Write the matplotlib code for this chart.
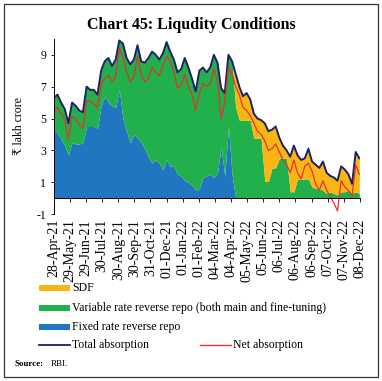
import matplotlib
matplotlib.use("Agg")
import matplotlib.pyplot as plt
from matplotlib.patches import Rectangle
from matplotlib.lines import Line2D
import numpy as np
import pandas as pd

# weekly observations, 28-Apr-21 onwards (Rs lakh crore)
week_start = "2021-04-28"

total_absorption = [
    6.3, 6.5, 6.0, 5.6, 4.7, 6.0, 5.8, 5.5, 5.4, 7.0,
    6.8, 6.8, 6.5, 8.0, 8.6, 8.8, 8.3, 8.7, 9.9, 9.7,
    8.8, 8.4, 8.7, 9.6, 8.6, 8.5, 8.8, 9.2, 9.0, 8.7,
    9.1, 9.8, 9.2, 8.7, 7.9, 8.1, 8.8, 8.2, 7.5, 6.7,
    8.0, 8.2, 7.9, 8.2, 9.0, 8.5, 6.9, 6.6, 9.0, 8.6,
    7.8, 7.0, 6.4, 6.6, 6.2, 5.3, 5.0, 4.9, 4.7, 4.2,
    4.3, 4.5, 3.8, 3.3, 3.0, 2.6, 3.3, 2.7, 2.4, 2.5,
    3.1, 2.3, 2.1, 1.9, 2.3, 1.6, 1.4, 1.3, 1.1, 2.0,
    1.8, 1.5, 0.9, 2.9, 2.5,
]

net_absorption = [
    5.45, 5.7, 5.3, 4.9, 3.7, 5.1, 5.0, 4.6, 4.4, 6.1,
    6.1, 5.9, 5.7, 7.2, 7.5, 7.7, 7.3, 7.6, 9.4, 8.9,
    7.9, 7.3, 7.6, 8.9, 7.8, 7.3, 7.5, 8.2, 7.9, 7.7,
    8.3, 8.9, 8.6, 7.9, 6.9, 7.1, 7.8, 7.0, 6.5, 5.5,
    6.6, 7.2, 7.0, 7.2, 8.1, 7.4, 5.0, 6.0, 8.2, 7.8,
    7.0, 6.5, 5.7, 5.5, 5.2, 4.7, 4.2, 4.0, 3.6, 3.0,
    3.1, 3.4, 2.9, 2.4, 2.1, 1.6, 2.4, 1.6, 1.2, 2.0,
    2.2, 1.7, 0.9, 0.5, 1.1, 0.5, 0.1, -0.3, -0.8, 1.1,
    0.7, 0.5, 0.1, 2.1, 1.5,
]

fixed_rate_rr = [
    4.3, 4.1, 3.7, 3.3, 2.7, 3.5, 3.4, 3.4, 3.5, 4.5,
    4.5, 4.5, 4.4, 5.8, 6.4, 6.0, 5.8, 5.7, 6.8, 5.0,
    4.2, 3.5, 4.0, 3.8, 3.5, 3.1, 2.6, 2.2, 2.4, 2.2,
    1.8, 2.4, 2.0, 2.0, 1.5, 1.4, 1.1, 1.0, 0.8, 0.5,
    0.6, 1.3, 1.4, 1.5, 1.3, 1.6, 3.2, 1.4, 4.5, 1.5,
    0, 0, 0, 0, 0, 0, 0, 0, 0, 0,
    0, 0, 0, 0, 0, 0, 0, 0, 0, 0,
    0, 0, 0, 0, 0, 0, 0, 0, 0, 0,
    0, 0, 0, 0, 0,
]

sdf = [
    0, 0, 0, 0, 0, 0, 0, 0, 0, 0,
    0, 0, 0, 0, 0, 0, 0, 0, 0, 0,
    0, 0, 0, 0, 0, 0, 0, 0, 0, 0,
    0, 0, 0, 0, 0, 0, 0, 0, 0, 0,
    0, 0, 0, 0, 0, 0, 0, 0, 0, 0,
    2.1, 2.1, 1.5, 1.7, 1.3, 1.55, 1.25, 1.15, 3.65, 3.15,
    2.4, 2.6, 1.3, 0.8, 0.5, 2.2, 2.9, 1.5, 1.2, 1.3,
    1.9, 1.6, 1.5, 1.3, 1.8, 1.3, 1.0, 1.0, 0.9, 1.6,
    1.4, 1.0, 0.6, 2.5, 2.2,
]

tick_labels = [
    "28-Apr-21", "29-May-21", "29-Jun-21", "30-Jul-21", "30-Aug-21",
    "30-Sep-21", "31-Oct-21", "01-Dec-21", "01-Jan-22", "01-Feb-22",
    "04-Mar-22", "04-Apr-22", "05-May-22", "05-Jun-22", "06-Jul-22",
    "06-Aug-22", "06-Sep-22", "07-Oct-22", "07-Nov-22", "08-Dec-22",
]

dates = pd.date_range(week_start, periods=len(total_absorption), freq="7D")
total = np.array(total_absorption)
fixed = np.array(fixed_rate_rr)
sdf_v = np.array(sdf)
variable = total - fixed - sdf_v
tick_pos = pd.to_datetime(tick_labels, format="%d-%b-%y")

c_blue = "#2176c2"
c_green = "#21b04b"
c_yellow = "#fbb616"
c_navy = "#1c2167"
c_red = "#e2342a"

plt.rcParams["font.family"] = ["Liberation Serif", "DejaVu Serif", "DejaVu Sans"]
plt.rcParams["axes.unicode_minus"] = False

fig = plt.figure(figsize=(3.82, 3.81), dpi=100)
ax = fig.add_axes([0.141, 0.438, 0.801, 0.46])

ax.fill_between(dates, 0, fixed, color=c_blue, lw=0)
ax.fill_between(dates, fixed, fixed + variable, color=c_green, lw=0)
ax.fill_between(dates, fixed + variable, total, color=c_yellow, lw=0)
ax.plot(dates, total, color=c_navy, lw=1.4)
ax.plot(dates, net_absorption, color=c_red, lw=0.9)

ax.set_xlim(tick_pos[0], tick_pos[-1])
ax.set_ylim(-1, 10)
ax.set_yticks([-1, 1, 3, 5, 7, 9])
ax.set_xticks(tick_pos)
ax.set_xticklabels(tick_labels, fontsize=6.5)
ax.tick_params(axis="x", labelrotation=90, length=3, width=0.6, pad=12,
               direction="out")
ax.tick_params(axis="y", labelsize=8.5, length=2, width=0.6)

ax.spines["top"].set_visible(False)
ax.spines["right"].set_visible(False)
ax.spines["bottom"].set_position(("data", 0))
ax.spines["bottom"].set_linewidth(0.7)
ax.spines["left"].set_linewidth(0.7)
ax.set_ylabel("₹ lakh crore", fontsize=8.5, labelpad=8)

fig.text(0.5, 0.935, "Chart 45: Liqudity Conditions", ha="center", va="center",
         fontsize=11.5, fontweight="bold")

# legend drawn by hand below the chart
W, H = 382.0, 381.0
def fx(px):
    return px / W
def fy(py):
    return 1 - py / H

legend_rows = [
    (c_yellow, "SDF", 288),
    (c_green, "Variable rate reverse repo (both main and fine-tuning)", 308),
    (c_blue, "Fixed rate reverse repo", 327),
]
for col, lab, py in legend_rows:
    fig.patches.append(Rectangle((fx(39), fy(py + 3)), fx(31), 6 / H,
                                 transform=fig.transFigure, color=col, lw=0))
    fig.text(fx(72), fy(py), lab, fontsize=8.5, va="center", ha="left")

fig.lines.append(Line2D([fx(39), fx(70)], [fy(345), fy(345)],
                        transform=fig.transFigure, color=c_navy, lw=1.3))
fig.text(fx(72), fy(345), "Total absorption", fontsize=8.5, va="center")
fig.lines.append(Line2D([fx(200), fx(231)], [fy(345), fy(345)],
                        transform=fig.transFigure, color=c_red, lw=1.0))
fig.text(fx(233), fy(345), "Net absorption", fontsize=8.5, va="center")

fig.text(fx(15), fy(364), "Source:", fontsize=6.5, fontweight="bold", va="center")
fig.text(fx(51), fy(364), "RBI.", fontsize=6.5, va="center")

fig.patches.append(Rectangle((fx(4), fy(377)), fx(374), 373 / H,
                             transform=fig.transFigure, fill=False,
                             edgecolor="#333333", lw=0.9))

fig.savefig("out.png", dpi=100)
